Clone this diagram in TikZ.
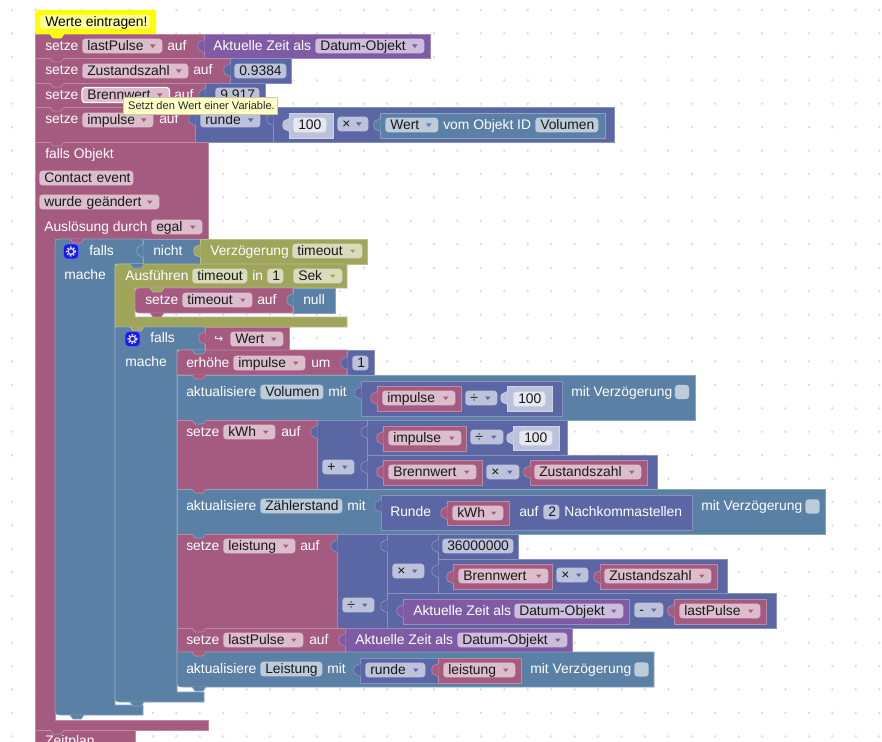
\documentclass[tikz,border=0pt]{standalone}
\usepackage{fontspec}
\setmainfont{Liberation Sans}
\newfontfamily\pfeilfont{DejaVu Sans}
\usepackage{xcolor}

\definecolor{crosa}{HTML}{A55B80}
\definecolor{cblau}{HTML}{5B80A5}
\definecolor{cindigo}{HTML}{5B67A5}
\definecolor{clila}{HTML}{805BA5}
\definecolor{coliv}{HTML}{9FA55B}
\definecolor{chell}{HTML}{BDC2DB}
\definecolor{cgelb}{HTML}{FFFF00}
\definecolor{ctipp}{HTML}{FFFFC7}

\tikzset{
  block/.style={fill=c#1,draw=c#1!72!white,line width=.5pt},
  lbl/.style={anchor=west,inner sep=0pt,text=white,text height=8.6pt,text depth=1.4pt,
    font=\fontsize{10.4}{12}\selectfont},
  feld/.style={anchor=west,rounded corners=2.4pt,inner xsep=3.75pt,inner ysep=0pt,
    text=black!90,text height=8.6pt,text depth=1.4pt,minimum height=11pt,
    font=\fontsize{10.4}{12}\selectfont},
  zahn/.style={fill=blue!75!cindigo,draw=white!40!blue,line width=.4pt,rounded corners=2.5pt,
    minimum size=11pt,inner sep=0pt},
  tipp/.style={fill=ctipp,draw=ctipp!80!black,line width=.3pt,anchor=west,inner sep=0pt,
    text=black!85,font=\fontsize{8.3}{10}\selectfont,minimum width=116pt,minimum height=13pt},
  haken/.style={fill=cblau!40!white,rounded corners=2.4pt,minimum size=10.7pt,inner sep=0pt},
}

% rechteck eines blocks
\newcommand{\klotz}[5]{\path[block=#1] (#2,#3) rectangle (#4,#5);}
% feld ohne pfeil: farbe, name, x1, x2, y, text
\newcommand{\feld}[6]{\node[feld,fill=c#1!40!white,minimum width={(#4-#3)*.75pt},
  text width={(#4-#3-10)*.75pt}] (#2) at (#3,#5) {\mbox{#6}};}
% feld mit pfeil
\newcommand{\wahl}[6]{\feld{#1}{#2}{#3}{#4}{#5}{#6}
  \fill[c#1] (#4-12,#5-1.5) -- ++(5.5,0) -- ++(-2.75,3.5) -- cycle;}
% anschluss links vom wertblock
\newcommand{\lasche}[3]{\path[block=#1] (#2+.5,#3-6.5) .. controls (#2-2,#3-6.5) and (#2-1,#3-4.5)
  .. (#2-4,#3-4.5) .. controls (#2-7,#3-4.5) and (#2-7,#3+4.5) .. (#2-4,#3+4.5)
  .. controls (#2-1,#3+4.5) and (#2-2,#3+6.5) .. (#2+.5,#3+6.5);}
% nase unter einem block
\newcommand{\nase}[3]{\path[block=#1] (#2+15,#3) -- (#2+18,#3+4) -- (#2+26,#3+4) -- (#2+29,#3);}
\newcommand{\rad}[2]{\draw[white!85!blue,line width=1pt] (#1,#2) circle[radius=2.9];
  \draw[white!85!blue,line width=1pt,dash pattern=on 1.2pt off 1.2pt] (#1,#2) circle[radius=4.4];}

\begin{document}
\begin{tikzpicture}[x=.75pt,y=-.75pt]
\useasboundingbox (0,0) rectangle (882,742);
\fill[white] (0,0) rectangle (882,742);
\foreach \i in {0,...,37}
  \foreach \j in {0,...,31}
    \fill[black!14] (12.3+\i*23.43,10+\j*23.43) circle[radius=1.3];

% kopf
\fill[cgelb] (35,35) -- (35,16) .. controls (36,10) .. (42,10) -- (156,10) -- (156,35) -- cycle;
\fill[cgelb!40!white,rounded corners=2pt] (40,15) rectangle (150,29);
\node[lbl,text=black] (kopf) at (45,22) {Werte eintragen!};

% obere zeilen
\klotz{rosa}{35}{34}{204}{58}
\klotz{lila}{204}{34}{430}{58}
\klotz{rosa}{35}{58}{230}{83}
\klotz{indigo}{230}{58}{291}{83}
\klotz{rosa}{35}{83}{205}{107}
\klotz{indigo}{205}{83}{265}{107}
\klotz{rosa}{35}{107}{195}{142}
\klotz{indigo}{195}{107}{273}{142}
\klotz{indigo}{273}{107}{614}{142}
\klotz{hell}{289}{113}{333}{138}
\klotz{blau}{380}{113}{605}{138}

% falls objekt
\klotz{rosa}{35}{730}{135}{760}
\path[block=rosa] (35,142) -- (208,142) -- (208,239) -- (55,239) -- (55,720) -- (208,720)
  -- (208,730) -- (35,730) -- cycle;

% erstes falls
\path[block=blau] (143,239) -- (143,264) -- (115,264) -- (115,705) -- (143,705) -- (143,715)
  -- (63,715) .. controls (55,715) .. (55,707) -- (55,247) .. controls (55,239) .. (63,239) -- cycle;
\klotz{blau}{143}{239}{200}{264}
\klotz{oliv}{200}{239}{367}{264}

% ausfuehren
\path[block=oliv] (347,264) -- (347,288) -- (135,288) -- (135,317) -- (347,317) -- (347,327)
  -- (115,327) -- (115,272) .. controls (115,264) .. (123,264) -- cycle;
\path[block=rosa] (293,288) -- (293,313) -- (143,313) .. controls (135,313) .. (135,305)
  -- (135,296) .. controls (135,288) .. (143,288) -- cycle;
\klotz{blau}{293}{288}{335}{313}

% zweites falls
\path[block=blau] (205,327) -- (205,350) -- (177,350) -- (177,692) -- (204,692) -- (204,702)
  -- (123,702) .. controls (115,702) .. (115,694) -- (115,327) -- cycle;
\klotz{rosa}{205}{327}{289}{350}

% innere zeilen
\path[block=rosa] (347,350) -- (347,375) -- (177,375) -- (177,358) .. controls (177,350) .. (185,350) -- cycle;
\klotz{indigo}{347}{350}{374}{375}

\klotz{blau}{177}{375}{695}{420}
\klotz{indigo}{361}{381}{562}{416}
\klotz{rosa}{377}{386}{461}{411}
\klotz{hell}{507}{386}{552}{411}

\klotz{rosa}{177}{420}{317}{489}
\klotz{indigo}{317}{420}{367}{489}
\klotz{indigo}{367}{420}{567}{455}
\klotz{indigo}{367}{455}{657}{489}
\klotz{rosa}{383}{426}{466}{451}
\klotz{hell}{513}{426}{559}{450}
\klotz{rosa}{383}{460}{482}{485}
\klotz{rosa}{530}{460}{647}{485}

\klotz{blau}{177}{489}{825}{534}
\klotz{indigo}{381}{495}{692}{530}
\klotz{rosa}{447}{501}{509}{525}

\klotz{rosa}{177}{534}{337}{628}
\klotz{indigo}{337}{534}{387}{628}
\klotz{indigo}{387}{534}{438}{593}
\klotz{indigo}{438}{534}{518}{559}
\klotz{indigo}{438}{559}{727}{593}
\klotz{indigo}{387}{593}{776}{628}
\klotz{rosa}{453}{564}{552}{589}
\klotz{rosa}{600}{564}{717}{589}
\klotz{lila}{403}{599}{629}{624}
\klotz{rosa}{674}{599}{766}{624}

\klotz{rosa}{177}{628}{345}{652}
\klotz{lila}{345}{628}{572}{652}

\path[block=blau] (177,652) -- (654,652) -- (654,687) -- (185,687) .. controls (177,687) .. (177,679) -- cycle;
\klotz{indigo}{360}{658}{438}{683}
\klotz{rosa}{438}{658}{521}{683}

% nasen
\foreach \c/\x/\y in {gelb/35/34,rosa/35/58,rosa/35/83,rosa/35/107,rosa/35/142,rosa/35/730,
    rosa/55/239,blau/115/264,oliv/135/288,rosa/135/313,oliv/115/327,blau/177/350,rosa/177/375,
    blau/177/420,rosa/177/489,blau/177/534,rosa/177/628,rosa/177/652,blau/177/687,
    blau/115/702,blau/55/715}
  {\nase{\c}{\x}{\y}}

% laschen
\foreach \c/\x/\y in {lila/204/46,indigo/230/70,indigo/205/95,indigo/195/119,indigo/273/119,
    hell/289/125,blau/380/125,blau/143/251,oliv/200/251,blau/293/300,rosa/205/338,indigo/347/363,
    indigo/361/393,rosa/377/398,hell/507/398,indigo/317/432,indigo/367/432,indigo/367/467,
    rosa/383/438,hell/513/438,rosa/383/472,rosa/530/472,indigo/381/506,rosa/447/513,
    indigo/337/546,indigo/387/546,indigo/438/546,indigo/438/571,rosa/453/577,rosa/600/577,
    indigo/387/606,lila/403/611,rosa/674/611,lila/345/640,indigo/360/670,rosa/438/670}
  {\lasche{\c}{\x}{\y}}

% texte oben
\node[lbl] (setzeA) at (45,46) {setze};
\wahl{rosa}{lastA}{82}{162}{46}{lastPulse}
\node[lbl] (aufA) at (167,46) {auf};
\node[lbl] (zeitA) at (213,46) {Aktuelle Zeit als};
\wahl{lila}{datumA}{315}{424}{46}{Datum-Objekt}

\node[lbl] (setzeB) at (45,70) {setze};
\wahl{rosa}{zustandA}{82}{188}{71}{Zustandszahl}
\node[lbl] (aufB) at (193,70) {auf};
\feld{indigo}{zahlA}{234}{286}{71}{0.9384}

\node[lbl] (setzeC) at (45,95) {setze};
\wahl{rosa}{brennA}{82}{169}{95}{Brennwert}
\draw[white,line width=.9pt,rounded corners=2.4pt] (brennA.north west) rectangle (brennA.south east);
\node[lbl] (aufC) at (174,95) {auf};
\feld{indigo}{zahlB}{215}{259}{95}{9.917}

\node[lbl] (setzeD) at (45,119) {setze};
\wahl{rosa}{impA}{82}{153}{120}{impulse}
\node[lbl] (aufD) at (159,119) {auf};
\wahl{indigo}{rundeA}{200}{260}{120}{runde}
\feld{hell}{hundertA}{293}{326}{125}{100}
\wahl{indigo}{malA}{337}{368}{124}{×}
\wahl{blau}{wertA}{385}{438}{125}{Wert}
\node[lbl] (vomA) at (443,125) {vom Objekt ID};
\feld{blau}{volA}{535}{598}{125}{Volumen}

\node[lbl] (fallsO) at (45,154) {falls Objekt};
\feld{rosa}{kontakt}{39}{133}{178}{Contact event}
\wahl{rosa}{geaendert}{39}{159}{202}{wurde geändert}
\node[lbl] (ausl) at (44,227) {Auslösung durch};
\wahl{rosa}{egal}{151}{202}{227}{egal}

% erstes falls, texte
\node[zahn] (radA) at (71,251.5) {};
\rad{71}{251.5}
\node[lbl] (fallsA) at (89,251) {falls};
\node[lbl] (nicht) at (153,251) {nicht};
\node[lbl] (verz) at (210,251) {Verzögerung};
\wahl{oliv}{timeA}{292}{362}{251}{timeout}
\node[lbl] (macheA) at (64,275) {mache};
\node[lbl] (ausf) at (125,276) {Ausführen};
\feld{oliv}{timeB}{192}{247}{276}{timeout}
\node[lbl] (inA) at (252,276) {in};
\feld{oliv}{einsA}{267}{283}{276}{1}
\wahl{oliv}{sek}{293}{342}{276}{Sek}
\node[lbl] (setzeE) at (145,300) {setze};
\wahl{rosa}{timeC}{182}{252}{300}{timeout}
\node[lbl] (aufE) at (257,300) {auf};
\node[lbl] (nullA) at (303,300) {null};

% zweites falls, texte
\node[zahn] (radB) at (132.5,339) {};
\rad{132.5}{339}
\node[lbl] (fallsB) at (150,338) {falls};
\node[lbl,font=\pfeilfont\fontsize{8}{10}\selectfont] (pfeilA) at (214,338) {↪};
\wahl{rosa}{wertB}{230}{283}{339}{Wert}
\node[lbl] (macheB) at (125,362) {mache};

\node[lbl] (erh) at (186,363) {erhöhe};
\wahl{rosa}{impB}{233}{305}{363}{impulse}
\node[lbl] (um) at (311,363) {um};
\feld{indigo}{einsB}{352}{368}{363}{1}

\node[lbl] (aktA) at (186,392) {aktualisiere};
\feld{blau}{volB}{260}{323}{392}{Volumen}
\node[lbl] (mitA) at (328,392) {mit};
\wahl{rosa}{impC}{382}{455}{398}{impulse}
\wahl{indigo}{durchA}{465}{497}{398}{÷}
\feld{hell}{hundertB}{513}{545}{399}{100}
\node[lbl] (verzA) at (571,392) {mit Verzögerung};
\node[haken] (hakenA) at (682,392) {};

\node[lbl] (setzeF) at (186,432) {setze};
\wahl{rosa}{kwhA}{223}{275}{432}{kWh}
\node[lbl] (aufF) at (281,432) {auf};
\wahl{rosa}{impD}{388}{461}{438}{impulse}
\wahl{indigo}{durchB}{470}{503}{437}{÷}
\feld{hell}{hundertC}{519}{552}{438}{100}
\wahl{indigo}{plus}{322}{354}{467}{+}
\wahl{rosa}{brennB}{388}{476}{472}{Brennwert}
\wahl{indigo}{malB}{486}{519}{472}{×}
\wahl{rosa}{zustandB}{534}{641}{472}{Zustandszahl}

\node[lbl] (aktB) at (186,506) {aktualisiere};
\feld{blau}{zaehler}{260}{342}{506}{Zählerstand}
\node[lbl] (mitB) at (347,506) {mit};
\node[lbl] (rundeT) at (390,512) {Runde};
\wahl{rosa}{kwhB}{452}{503}{513}{kWh}
\node[lbl] (aufG) at (519,512) {auf};
\feld{indigo}{zwei}{543}{559}{512}{2}
\node[lbl] (nachk) at (564,512) {Nachkommastellen};
\node[lbl] (verzB) at (701,506) {mit Verzögerung};
\node[haken] (hakenB) at (812.5,506.5) {};

\node[lbl] (setzeG) at (186,546) {setze};
\wahl{rosa}{leistA}{223}{295}{546}{leistung}
\node[lbl] (aufH) at (300,546) {auf};
\feld{indigo}{grossZahl}{442}{513}{546}{36000000}
\wahl{indigo}{malC}{392}{424}{571}{×}
\wahl{rosa}{brennC}{458}{548}{576}{Brennwert}
\wahl{indigo}{malD}{556}{588}{575}{×}
\wahl{rosa}{zustandC}{604}{711}{576}{Zustandszahl}
\wahl{indigo}{durchC}{342}{374}{605}{÷}
\node[lbl] (zeitB) at (413,611) {Aktuelle Zeit als};
\wahl{lila}{datumB}{514}{623}{611}{Datum-Objekt}
\wahl{indigo}{minus}{634}{663}{610}{-}
\wahl{rosa}{lastB}{679}{760}{611}{lastPulse}

\node[lbl] (setzeH) at (186,640) {setze};
\wahl{rosa}{lastC}{223}{303}{640}{lastPulse}
\node[lbl] (aufI) at (309,640) {auf};
\node[lbl] (zeitC) at (355,640) {Aktuelle Zeit als};
\wahl{lila}{datumC}{457}{567}{640}{Datum-Objekt}

\node[lbl] (aktC) at (186,669) {aktualisiere};
\feld{blau}{leistB}{260}{322}{669}{Leistung}
\node[lbl] (mitC) at (327,669) {mit};
\wahl{indigo}{rundeB}{365}{425}{670}{runde}
\wahl{rosa}{leistC}{443}{515}{670}{leistung}
\node[lbl] (verzC) at (530,669) {mit Verzögerung};
\node[haken] (hakenC) at (641.5,669.5) {};

\node[lbl] (zeitplan) at (45,741) {Zeitplan};

% hinweis
\node[tipp] (hinweis) at (122.5,105.5) {\hspace{2.2pt}Setzt den Wert einer Variable.};
\end{tikzpicture}
\end{document}
